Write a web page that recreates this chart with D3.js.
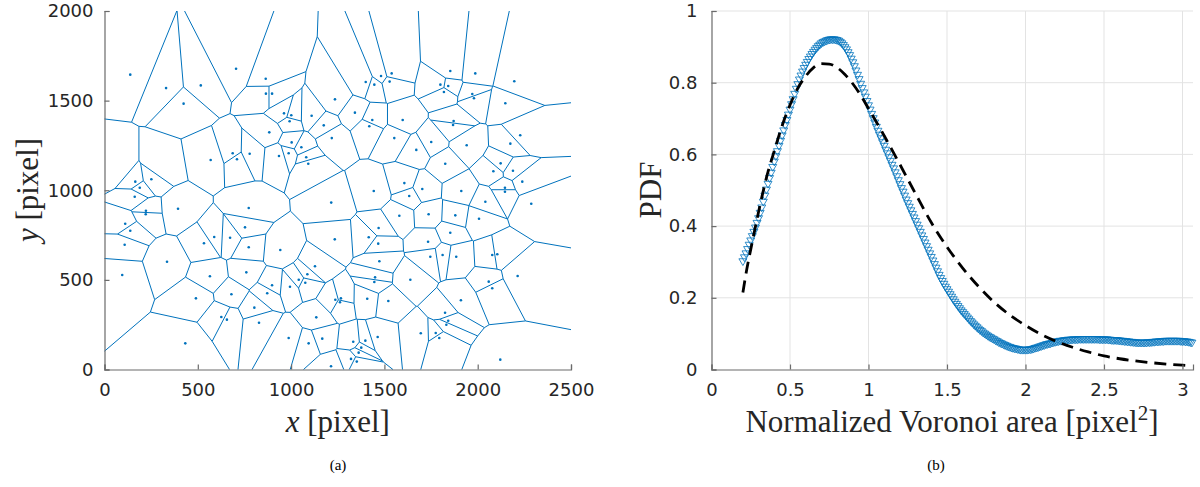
<!DOCTYPE html>
<html><head><meta charset="utf-8">
<script src="https://cdn.jsdelivr.net/npm/d3@7"></script>
<style>body{margin:0;background:#fff}svg{display:block}</style>
</head><body>
<svg id="c" width="1200" height="487"></svg>
<script>
// ---- Panel (a): particle centres (pixel units) ----
const dotX = [138,330,516,424,705,864,865,898,1235,962,1001,992,1110,1175,883,1218,1003,1055,987,935,1081,1092,687,778,710,569,165,251,189,1482,1539,1400,1446,1528,1853,1987,2196,1800,1842,1819,1971,1980,2148,1342,1435,1419,1598,1871,1868,1553,1751,1941,2228,2175,1671,1826,2123,2084,2189,1607,1703,2146,2239,162,222,221,394,773,1215,111,138,108,588,673,753,533,773,942,1234,335,95,565,760,1128,1087,1041,1076,898,994,872,680,490,1237,626,656,803,828,1135,433,987,1094,1167,1214,1443,1633,1912,2041,2146,2287,1580,1737,1880,2007,1469,1416,1467,1853,1734,1473,1746,1812,1885,2078,2105,1450,1446,1639,2214,2059,2078,1267,1262,1408,1521,1910,1825,1842,1832,1695,1775,1794,1464,1333,1398,1376,1362,1321,1352,2121];
const dotY = [1645,1570,1585,1483,1678,1622,1539,1539,1507,1429,1418,1385,1416,1362,1323,1291,1267,1240,1206,1191,1184,1148,1206,1204,1173,1169,1048,1061,1014,1637,1652,1604,1589,1606,1665,1652,1608,1589,1582,1548,1537,1513,1485,1433,1392,1357,1392,1386,1364,1291,1269,1251,1307,1260,1225,1148,1150,1106,1109,1040,1007,1014,1048,964,886,866,897,901,931,813,774,696,739,735,793,704,682,667,726,601,527,520,542,576,531,501,484,470,462,425,420,397,389,293,278,345,261,291,146,176,146,172,18,996,968,996,936,992,925,858,866,860,841,789,738,702,763,713,604,629,639,629,639,643,514,488,501,522,490,453,397,375,395,382,386,317,272,250,202,204,176,181,155,161,122,94,59,44,55];
// extra Voronoi generators (cells without a plotted dot)
const extraX = [72,297];
const extraY = [1124,1124];
const xTicksA = [0,500,1000,1500,2000,2500];
const yTicksA = [0,500,1000,1500,2000];

// ---- Panel (b): PDF of normalized Voronoi area ----
const pdfX = [0.20,0.21,0.22,0.23,0.24,0.25,0.26,0.27,0.28,0.29,0.30,0.31,0.32,0.33,0.34,0.35,0.36,0.37,0.38,0.39,0.40,0.41,0.42,0.43,0.44,0.45,0.46,0.47,0.48,0.49,0.50,0.51,0.52,0.53,0.54,0.55,0.56,0.57,0.58,0.59,0.60,0.61,0.62,0.63,0.64,0.65,0.66,0.67,0.68,0.69,0.70,0.71,0.72,0.73,0.74,0.75,0.76,0.77,0.78,0.79,0.80,0.81,0.82,0.83,0.84,0.85,0.86,0.87,0.88,0.89,0.90,0.91,0.92,0.93,0.94,0.95,0.96,0.97,0.98,0.99,1.00,1.01,1.02,1.03,1.04,1.05,1.06,1.07,1.08,1.09,1.10,1.11,1.12,1.13,1.14,1.15,1.16,1.17,1.18,1.19,1.20,1.21,1.22,1.23,1.24,1.25,1.26,1.27,1.28,1.29,1.30,1.31,1.32,1.33,1.34,1.35,1.36,1.37,1.38,1.39,1.40,1.41,1.42,1.43,1.44,1.45,1.46,1.47,1.48,1.49,1.50,1.51,1.52,1.53,1.54,1.55,1.56,1.57,1.58,1.59,1.60,1.61,1.62,1.63,1.64,1.65,1.66,1.67,1.68,1.69,1.70,1.71,1.72,1.73,1.74,1.75,1.76,1.77,1.78,1.79,1.80,1.81,1.82,1.83,1.84,1.85,1.86,1.87,1.88,1.89,1.90,1.91,1.92,1.93,1.94,1.95,1.96,1.97,1.98,1.99,2.00,2.01,2.02,2.03,2.04,2.05,2.06,2.07,2.08,2.09,2.10,2.11,2.12,2.13,2.14,2.15,2.16,2.17,2.18,2.19,2.20,2.21,2.22,2.23,2.24,2.25,2.26,2.27,2.28,2.29,2.30,2.31,2.32,2.33,2.34,2.35,2.36,2.37,2.38,2.39,2.40,2.41,2.42,2.43,2.44,2.45,2.46,2.47,2.48,2.49,2.50,2.51,2.52,2.53,2.54,2.55,2.56,2.57,2.58,2.59,2.60,2.61,2.62,2.63,2.64,2.65,2.66,2.67,2.68,2.69,2.70,2.71,2.72,2.73,2.74,2.75,2.76,2.77,2.78,2.79,2.80,2.81,2.82,2.83,2.84,2.85,2.86,2.87,2.88,2.89,2.90,2.91,2.92,2.93,2.94,2.95,2.96,2.97,2.98,2.99,3.00,3.01,3.02,3.03,3.04,3.05,3.06];
const pdfY = [0.300,0.311,0.322,0.334,0.346,0.358,0.370,0.382,0.394,0.407,0.420,0.435,0.450,0.466,0.483,0.500,0.516,0.532,0.547,0.563,0.578,0.593,0.607,0.622,0.636,0.651,0.665,0.680,0.694,0.709,0.723,0.738,0.752,0.767,0.781,0.794,0.807,0.818,0.829,0.839,0.848,0.856,0.864,0.871,0.878,0.884,0.890,0.895,0.900,0.904,0.908,0.911,0.913,0.915,0.917,0.918,0.919,0.919,0.919,0.918,0.917,0.915,0.912,0.908,0.903,0.897,0.891,0.883,0.875,0.865,0.855,0.844,0.832,0.820,0.808,0.795,0.783,0.771,0.759,0.747,0.735,0.723,0.711,0.699,0.687,0.675,0.664,0.653,0.643,0.632,0.622,0.611,0.601,0.590,0.580,0.569,0.559,0.548,0.537,0.526,0.515,0.504,0.494,0.483,0.472,0.462,0.452,0.442,0.432,0.422,0.412,0.402,0.392,0.382,0.372,0.362,0.352,0.342,0.332,0.322,0.312,0.302,0.292,0.282,0.272,0.262,0.253,0.245,0.237,0.229,0.222,0.215,0.208,0.201,0.194,0.187,0.181,0.175,0.169,0.163,0.158,0.153,0.148,0.143,0.138,0.133,0.129,0.124,0.120,0.116,0.112,0.108,0.105,0.101,0.098,0.095,0.092,0.089,0.087,0.084,0.082,0.079,0.077,0.074,0.072,0.070,0.068,0.066,0.064,0.062,0.061,0.059,0.058,0.057,0.056,0.055,0.054,0.053,0.053,0.053,0.053,0.053,0.054,0.054,0.055,0.056,0.058,0.059,0.060,0.062,0.063,0.065,0.066,0.068,0.069,0.070,0.071,0.073,0.074,0.075,0.076,0.077,0.078,0.078,0.079,0.080,0.080,0.081,0.081,0.081,0.082,0.082,0.082,0.082,0.083,0.083,0.083,0.083,0.083,0.083,0.083,0.083,0.083,0.083,0.083,0.083,0.083,0.082,0.082,0.082,0.082,0.082,0.082,0.081,0.081,0.080,0.080,0.080,0.080,0.079,0.079,0.078,0.078,0.077,0.077,0.076,0.076,0.075,0.075,0.074,0.074,0.073,0.073,0.073,0.073,0.073,0.073,0.073,0.074,0.074,0.074,0.075,0.075,0.076,0.076,0.076,0.077,0.077,0.077,0.078,0.078,0.078,0.078,0.078,0.078,0.078,0.078,0.078,0.078,0.077,0.077,0.077,0.076,0.076,0.075,0.074,0.073];
const fitX = [0.20,0.225,0.25,0.30,0.35,0.40,0.45,0.50,0.55,0.60,0.65,0.70,0.75,0.80,0.85,0.90,0.95,1.00,1.10,1.20,1.30,1.40,1.50,1.60,1.70,1.80,1.90,2.00,2.10,2.20,2.30,2.40,2.50,2.60,2.70,2.80,2.90,3.00,3.04];
const fitY = [0.215,0.280,0.335,0.440,0.535,0.610,0.680,0.738,0.785,0.818,0.842,0.853,0.852,0.842,0.823,0.797,0.765,0.728,0.652,0.572,0.490,0.410,0.342,0.283,0.232,0.188,0.152,0.123,0.098,0.078,0.062,0.049,0.038,0.030,0.024,0.019,0.015,0.012,0.011];
const xTicksB = [0,0.5,1,1.5,2,2.5,3];
const yTicksB = [0,0.2,0.4,0.6,0.8,1];

const BLUE = "#0072BD", AXC = "#6b6b6b", TXT = "#262626";
const SANS = "'DejaVu Sans', sans-serif", SERIF = "'Liberation Serif', 'Times New Roman', serif";
const svg = d3.select("#c");
svg.append("rect").attr("width",1200).attr("height",487).attr("fill","#fff");

// ================= Panel (a) =================
const xA = d3.scaleLinear().domain([0,2500]).range([104.5,571]);
const yA = d3.scaleLinear().domain([0,2000]).range([369.5,11]);
const gA = svg.append("g");
const sites = dotX.map((x,i)=>[x,dotY[i]]).concat(extraX.map((x,i)=>[x,extraY[i]]));
const vor = d3.Delaunay.from(sites).voronoi([0,0,2500,2000]);
const vp = d3.path();
vor.render({moveTo:(x,y)=>vp.moveTo(xA(x),yA(y)), lineTo:(x,y)=>vp.lineTo(xA(x),yA(y)), closePath:()=>vp.closePath()});
gA.append("path").attr("d",vp.toString()).attr("fill","none").attr("stroke",BLUE).attr("stroke-width",1);
gA.selectAll("circle.d").data(dotX.map((x,i)=>[x,dotY[i]])).join("circle")
  .attr("cx",d=>xA(d[0])).attr("cy",d=>yA(d[1])).attr("r",1.3).attr("fill",BLUE);

const axA = gA.append("g").attr("transform","translate(0,369.5)").call(d3.axisBottom(xA).tickValues(xTicksA).tickSize(-5).tickPadding(14).tickFormat(d3.format("d")));
const ayA = gA.append("g").attr("transform","translate(104.5,0)").call(d3.axisLeft(yA).tickValues(yTicksA).tickSize(-5).tickPadding(11).tickFormat(d3.format("d")));
[axA,ayA].forEach(a=>{
  a.select(".domain").attr("stroke",AXC).attr("stroke-width",1.2);
  a.selectAll(".tick line").attr("stroke",AXC).attr("stroke-width",1.2);
  a.selectAll("text").attr("font-family",SANS).attr("font-size",18).attr("fill",TXT);
});
svg.append("text").attr("x",337.8).attr("y",432).attr("text-anchor","middle")
  .attr("font-family",SERIF).attr("font-size",31).attr("fill",TXT)
  .call(t=>{t.append("tspan").attr("font-style","italic").text("x");t.append("tspan").text(" [pixel]");});
svg.append("text").attr("transform","translate(38,190) rotate(-90)").attr("text-anchor","middle")
  .attr("font-family",SERIF).attr("font-size",31).attr("fill",TXT)
  .call(t=>{t.append("tspan").attr("font-style","italic").text("y");t.append("tspan").text(" [pixel]");});
svg.append("text").attr("x",338).attr("y",470).attr("text-anchor","middle")
  .attr("font-family",SERIF).attr("font-size",15).attr("fill","#000").text("(a)");

// ================= Panel (b) =================
const xB = d3.scaleLinear().domain([0,3.067]).range([711.5,1193]);
const yB = d3.scaleLinear().domain([0,1]).range([369.5,11]);
const gB = svg.append("g");
gB.append("g").selectAll("line").data(xTicksB.filter(d=>d>0)).join("line")
  .attr("x1",d=>xB(d)).attr("x2",d=>xB(d)).attr("y1",yB(0)).attr("y2",yB(1))
  .attr("stroke","#e3e3e3").attr("stroke-width",1);
gB.append("g").selectAll("line").data(yTicksB.filter(d=>d>0)).join("line")
  .attr("x1",xB(0)).attr("x2",xB(3.067)).attr("y1",d=>yB(d)).attr("y2",d=>yB(d))
  .attr("stroke","#e3e3e3").attr("stroke-width",1);

const tri = "M-4,-3.2L4,-3.2L0,3.6Z";
gB.append("g").selectAll("path").data(pdfX.map((x,i)=>[x,pdfY[i]])).join("path")
  .attr("d",tri).attr("transform",d=>`translate(${xB(d[0])},${yB(d[1])})`)
  .attr("fill","none").attr("stroke",BLUE).attr("stroke-width",0.8);

gB.append("path").datum(fitX.map((x,i)=>[x,fitY[i]]))
  .attr("d",d3.line().x(d=>xB(d[0])).y(d=>yB(d[1])).curve(d3.curveMonotoneX))
  .attr("fill","none").attr("stroke","#000").attr("stroke-width",2.8).attr("stroke-dasharray","12,7");

const axB = gB.append("g").attr("transform","translate(0,369.5)").call(d3.axisBottom(xB).tickValues(xTicksB).tickSize(-5).tickPadding(14).tickFormat(d=>String(d)));
const ayB = gB.append("g").attr("transform","translate(711.5,0)").call(d3.axisLeft(yB).tickValues(yTicksB).tickSize(-5).tickPadding(14).tickFormat(d=>String(d)));
[axB,ayB].forEach(a=>{
  a.select(".domain").attr("stroke",AXC).attr("stroke-width",1.2);
  a.selectAll(".tick line").attr("stroke",AXC).attr("stroke-width",1.2);
  a.selectAll("text").attr("font-family",SANS).attr("font-size",18).attr("fill",TXT);
});
svg.append("text").attr("x",952).attr("y",432).attr("text-anchor","middle")
  .attr("font-family",SERIF).attr("font-size",31).attr("fill",TXT)
  .call(t=>{t.append("tspan").text("Normalized Voronoi area [pixel");
            t.append("tspan").attr("font-size",21).attr("dy",-12).text("2");
            t.append("tspan").attr("dy",12).text("]");});
svg.append("text").attr("transform","translate(661,190) rotate(-90)").attr("text-anchor","middle")
  .attr("font-family",SERIF).attr("font-size",31).attr("fill",TXT).text("PDF");
svg.append("text").attr("x",936).attr("y",470).attr("text-anchor","middle")
  .attr("font-family",SERIF).attr("font-size",15).attr("fill","#000").text("(b)");
</script>
</body></html>
